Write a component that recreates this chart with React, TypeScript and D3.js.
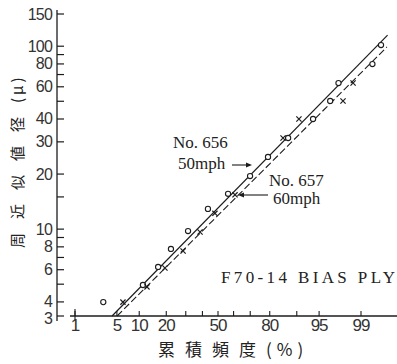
import React from "react";
import * as d3 from "d3";

// ---- data ----
const xTickLabels = [1, 5, 10, 20, 50, 80, 95, 99];
const xTickMarks = [1, 5, 10, 20, 30, 40, 50, 60, 70, 80, 90, 95, 99];
const yTickLabels = [3, 4, 6, 8, 10, 20, 30, 40, 60, 80, 100, 150];
const yTickMarks = [3, 4, 5, 6, 7, 8, 9, 10, 15, 20, 30, 40, 50, 60, 70, 80, 90, 100, 150];

// [cumulative %, diameter μ]
const circlePoints: [number, number][] = [
  [99.6, 101.5], [97.5, 62.9], [99.4, 79.9], [96.6, 50.2], [93.9, 40.0],
  [87.3, 31.5], [79.2, 24.8], [69.9, 19.5], [56.5, 15.6], [43.5, 12.9],
  [31.3, 9.76], [22.2, 7.79], [16.5, 6.21], [11.1, 4.95], [3.1, 3.99],
];
const crossPoints: [number, number][] = [
  [98.6, 62.9], [97.9, 50.2], [90.6, 40.0], [85.5, 31.5], [60.9, 15.4],
  [48.0, 12.2], [38.5, 9.64], [28.5, 7.59], [19.4, 6.13], [12.4, 4.83], [6.1, 3.99],
];
const line656: [number, number][] = [[4.24, 3.35], [99.71, 115]];
const line657: [number, number][] = [[5.03, 3.35], [99.7, 99]];

// inverse normal CDF (Acklam)
function probit(p: number): number {
  const a = [-39.69683028665376, 220.9460984245205, -275.9285104469687, 138.357751867269, -30.66479806614716, 2.506628277459239];
  const b = [-54.47609879822406, 161.5858368580409, -155.6989798598866, 66.80131188771972, -13.28068155288572];
  const c = [-0.007784894002430293, -0.3223964580411365, -2.400758277161838, -2.549732539343734, 4.374664141464968, 2.938163982698783];
  const d = [0.007784695709041462, 0.3224671290700398, 2.445134137142996, 3.754408661907416];
  const pl = 0.02425;
  if (p < pl) {
    const q = Math.sqrt(-2 * Math.log(p));
    return (((((c[0] * q + c[1]) * q + c[2]) * q + c[3]) * q + c[4]) * q + c[5]) / ((((d[0] * q + d[1]) * q + d[2]) * q + d[3]) * q + 1);
  }
  if (p > 1 - pl) {
    const q = Math.sqrt(-2 * Math.log(1 - p));
    return -(((((c[0] * q + c[1]) * q + c[2]) * q + c[3]) * q + c[4]) * q + c[5]) / ((((d[0] * q + d[1]) * q + d[2]) * q + d[3]) * q + 1);
  }
  const q = p - 0.5;
  const r = q * q;
  return (((((a[0] * r + a[1]) * r + a[2]) * r + a[3]) * r + a[4]) * r + a[5]) * q / (((((b[0] * r + b[1]) * r + b[2]) * r + b[3]) * r + b[4]) * r + 1);
}

const W = 397, H = 364;
const zScale = d3.scaleLinear().domain([probit(0.01), probit(0.99)]).range([75, 361]);
const x = (pct: number) => zScale(probit(pct / 100));
const y = d3.scaleLog().domain([3.35, 150]).range([316, 14]).clamp(true);

const axisX = 57;
const axisY = 316;
const ink = "#1c1c1c";
const numFont = "'Liberation Sans', Arial, sans-serif";
const serif = "'Liberation Serif', 'Times New Roman', serif";
const cjk = "'Noto Sans CJK JP', sans-serif";

export default function App() {
  const lineGen = d3.line<[number, number]>().x((d) => x(d[0])).y((d) => y(d[1]));
  return (
    <svg width={W} height={H} viewBox={`0 0 ${W} ${H}`} style={{ position: "absolute", left: 0, top: 0, background: "#fff" }}>
      <rect width={W} height={H} fill="#fff" />
      {/* y axis */}
      <line x1={axisX} x2={axisX} y1={10} y2={y(3) + 5} stroke={ink} strokeWidth={1.3} />
      {yTickMarks.map((t) => (
        <line key={"yt" + t} x1={axisX} x2={axisX + 7} y1={y(t)} y2={y(t)} stroke={ink} strokeWidth={1.2} />
      ))}
      {yTickLabels.map((t) => (
        <text key={"yl" + t} x={52} y={y(t) + (t === 3 ? 8 : 5.5)} textAnchor="end" fontFamily={numFont} fontSize={16} letterSpacing={-0.8} fill="#333">
          {t}
        </text>
      ))}
      {/* x axis */}
      <line x1={70} x2={W} y1={axisY} y2={axisY} stroke={ink} strokeWidth={1.3} />
      {xTickMarks.map((t) => (
        <line key={"xt" + t} x1={x(t)} x2={x(t)} y1={axisY} y2={axisY - 5} stroke={ink} strokeWidth={1.1} />
      ))}
      <line x1={x(1)} x2={x(1)} y1={axisY - 7} y2={axisY + 4} stroke={ink} strokeWidth={1.1} />
      {xTickLabels.map((t) => (
        <text key={"xl" + t} x={x(t)} y={331} textAnchor="middle" fontFamily={numFont} fontSize={17} letterSpacing={-1} fill="#333">
          {t}
        </text>
      ))}
      {/* axis titles */}
      <text x={158} y={356} fontFamily={cjk} fontSize={17} letterSpacing={10} fill="#222">
        累積頻度<tspan letterSpacing={5}>(%)</tspan>
      </text>
      <text transform="translate(23, 248) rotate(-90)" fontFamily={cjk} fontSize={15} letterSpacing={14} fill="#222">
        周近似値径<tspan letterSpacing={3}>(μ)</tspan>
      </text>
      {/* fitted lines */}
      <path d={lineGen(line656) || ""} fill="none" stroke={ink} strokeWidth={1.2} />
      <path d={lineGen(line657) || ""} fill="none" stroke={ink} strokeWidth={1.1} strokeDasharray="7,3" />
      {/* markers */}
      {circlePoints.map((p, i) => (
        <circle key={"c" + i} cx={x(p[0])} cy={y(p[1])} r={2.6} fill="#fff" stroke={ink} strokeWidth={1.1} />
      ))}
      {crossPoints.map((p, i) => {
        const cx = x(p[0]), cy = y(p[1]), s = 2.6;
        return (
          <path key={"x" + i} d={`M${cx - s},${cy - s}L${cx + s},${cy + s}M${cx - s},${cy + s}L${cx + s},${cy - s}`} stroke={ink} strokeWidth={1.2} />
        );
      })}
      {/* annotations */}
      <text x={173} y={148} fontFamily={serif} fontSize={17} fill="#222">No. 656</text>
      <text x={178} y={169} fontFamily={serif} fontSize={17} fill="#222">50mph</text>
      <line x1={232} x2={250} y1={165} y2={165} stroke={ink} strokeWidth={1.1} />
      <path d="M252,165 L246,162.5 L246,167.5 Z" fill={ink} />
      <text x={269} y={186} fontFamily={serif} fontSize={17} fill="#222">No. 657</text>
      <text x={273} y={204} fontFamily={serif} fontSize={17} fill="#222">60mph</text>
      <line x1={268} x2={240} y1={195} y2={195} stroke={ink} strokeWidth={1.1} />
      <path d="M238,195 L244,192.5 L244,197.5 Z" fill={ink} />
      <text x={221} y={283} fontFamily={serif} fontSize={17} textLength={174} lengthAdjust="spacing" fill="#222">
        F70-14 BIAS PLY
      </text>
    </svg>
  );
}
